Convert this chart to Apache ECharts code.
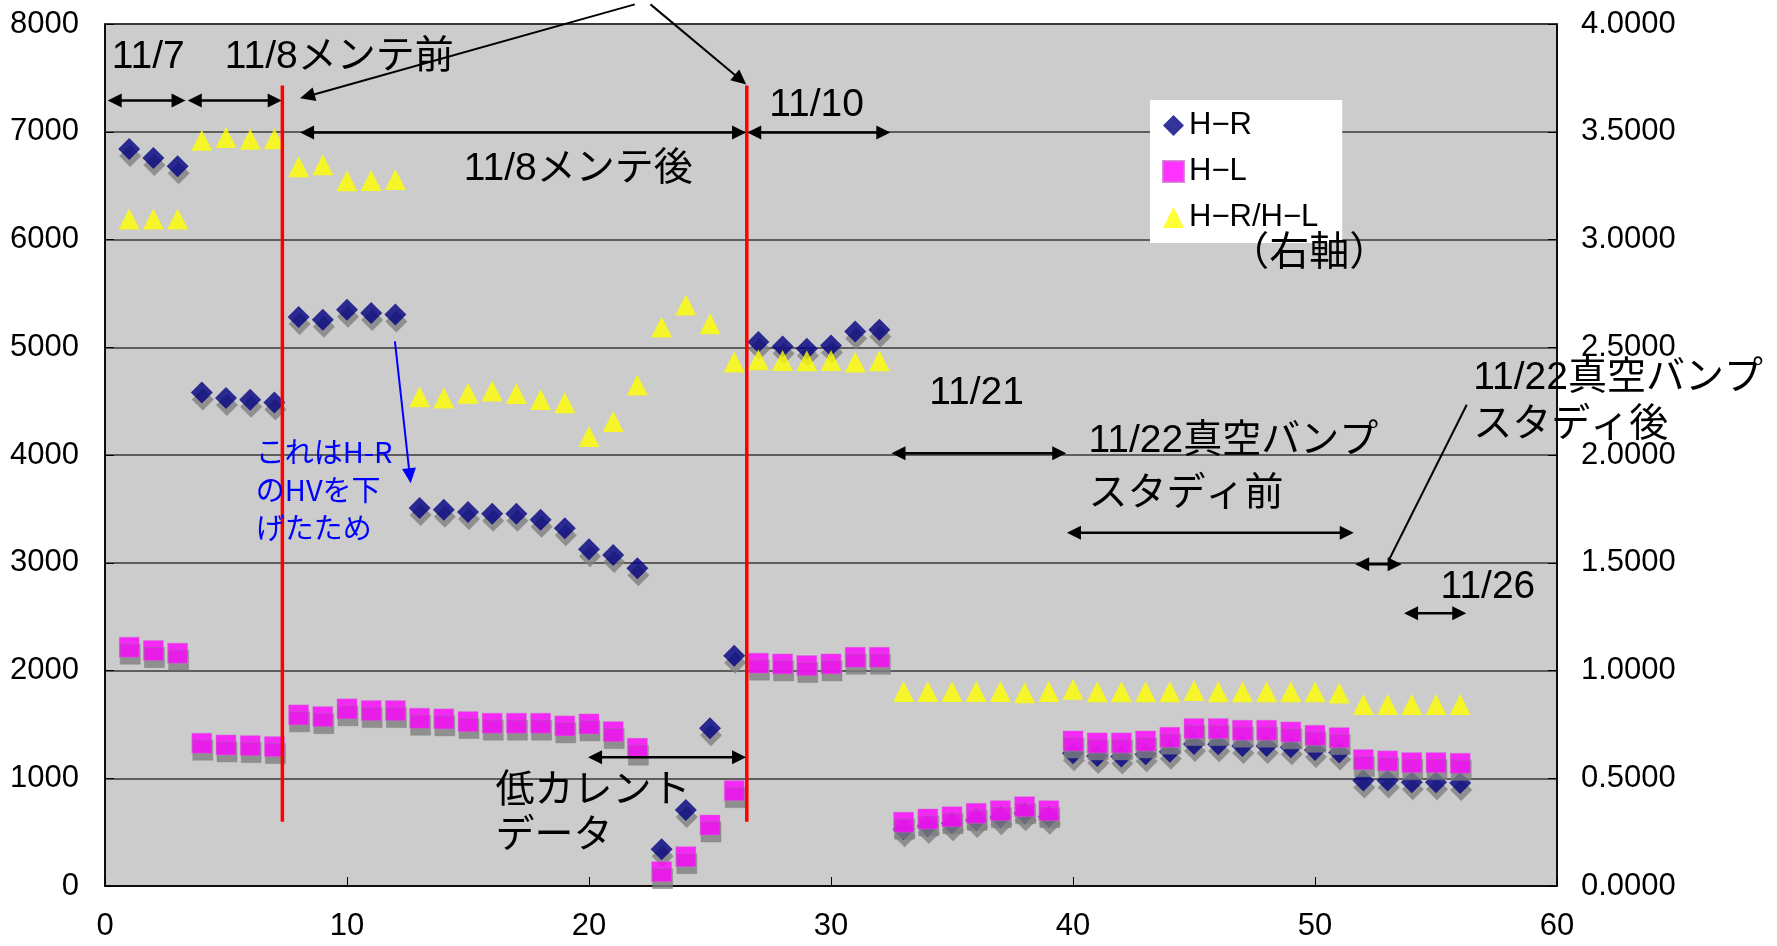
<!DOCTYPE html>
<html>
<head>
<meta charset="utf-8">
<script src="https://cdn.jsdelivr.net/npm/echarts@6/dist/echarts.min.js"></script>
<style>
  html, body { margin: 0; padding: 0; background: #fff; }
  #chart { width: 1777px; height: 946px; }
</style>
</head>
<body>
<div id="chart"></div>
<script>
// Measurement index (x axis)
const points = [1, 2, 3, 4, 5, 6, 7, 8, 9, 10, 11, 12, 13, 14, 15, 16, 17, 18, 19, 20,
  21, 22, 23, 24, 25, 26, 27, 28, 29, 30, 31, 32, 33, 34, 35, 36, 37, 38, 39, 40,
  41, 42, 43, 44, 45, 46, 47, 48, 49, 50, 51, 52, 53, 54, 55, 56];

// H-R counts (left axis)
const hR = [6841, 6757, 6680, 4581, 4528, 4513, 4488, 5281, 5256, 5349, 5318, 5305,
  3507, 3491, 3470, 3454, 3454, 3399, 3321, 3126, 3071, 2950, 341, 706, 1464, 2136,
  5049, 5008, 4987, 5017, 5147, 5163, 526, 557, 582, 613, 638, 675, 643,
  1232, 1207, 1201, 1223, 1247, 1319, 1316, 1300, 1300, 1288, 1263, 1238,
  978, 978, 963, 963, 957];

// H-L counts (left axis)
const hL = [2216, 2185, 2161, 1325, 1309, 1303, 1294, 1588, 1572, 1644, 1628, 1628,
  1557, 1551, 1526, 1511, 1511, 1511, 1486, 1504, 1433, 1279, 133, 272, 566, 885,
  2068, 2061, 2046, 2061, 2123, 2123, 592, 622, 643, 675, 699, 736, 699,
  1346, 1328, 1328, 1346, 1381, 1461, 1461, 1446, 1446, 1430, 1399, 1377,
  1173, 1161, 1145, 1145, 1139];

// H-R/H-L ratio (right axis)
const ratio = [3.095, 3.095, 3.095, 3.460, 3.473, 3.465, 3.468, 3.338, 3.347, 3.273, 3.274, 3.279,
  2.270, 2.265, 2.286, 2.297, 2.285, 2.258, 2.242, 2.086, 2.156, 2.325, 2.594, 2.696, 2.609, 2.431,
  2.442, 2.439, 2.437, 2.439, 2.431, 2.437, 0.902, 0.902, 0.902, 0.902, 0.902, 0.897, 0.902,
  0.913, 0.901, 0.901, 0.901, 0.901, 0.907, 0.901, 0.901, 0.901, 0.901, 0.901, 0.896,
  0.842, 0.842, 0.842, 0.842, 0.842];

const seriesNames = ['H-R', 'H-L', 'H-R/H-L'];

// Axis ranges
const xRange = [0, 60, 10];
const leftRange = [0, 8000, 1000];
const rightRange = [0, 4, 0.5];

// Maintenance markers (x positions, y extent on the left axis)
const maintenanceX = [7.33, 26.52];
const maintenanceY = [597, 7430];

// Period arrows: [xStart, xEnd, y]
const periodArrows = [
  [0.11, 3.33, 7290],
  [3.42, 7.30, 7290],
  [8.06, 26.49, 6993],
  [26.54, 32.45, 6993],
  [32.50, 39.72, 4017],
  [39.75, 51.60, 3278],
  [51.66, 53.58, 2986],
  [53.68, 56.25, 2532],
  [19.96, 26.49, 1195]
];

// Pointer arrows: [x0, y0, x1, y1], head at the second point
const pointerArrows = [
  [21.89, 8182, 8.06, 7310],
  [22.54, 8182, 26.50, 7439]
];
const hvArrow = [11.98, 5055, 12.63, 3738];
const leaderLine = [56.27, 4467, 53.06, 3028];

// Period labels: [text, x, y]
const periodLabels = [
  ['11/7', 0.28, 7690],
  ['11/8メンテ前', 4.95, 7690],
  ['11/8メンテ後', 14.82, 6649],
  ['11/10', 27.45, 7244],
  ['11/21', 34.06, 4574],
  ['11/22真空バンプ', 40.64, 4128],
  ['スタディ前', 40.64, 3636],
  ['11/22真空バンプ', 56.54, 4708],
  ['スタディ後', 56.54, 4280],
  ['11/26', 55.19, 2777],
  ['低カレント', 16.14, 882],
  ['データ', 16.14, 464]
];
const axisNote = ['（右軸）', 49.76, 5906];
const hvNote = ['これはH-R\nのHVを下\nげたため', 6.23, 3678];

const LATIN = '"Liberation Sans", "Noto Sans CJK JP", sans-serif';
const CJK = '"Noto Sans CJK JP", sans-serif';

const pairs = (xs, ys) => xs.map((x, i) => [x, ys[i]]);

const chart = echarts.init(document.getElementById('chart'), null, { renderer: 'canvas' });

const shadow = { shadowColor: '#808080', shadowOffsetX: 1, shadowOffsetY: 7, shadowBlur: 0 };
const axisFont = { fontSize: 31, color: '#000', fontFamily: LATIN };

chart.setOption({
  animation: false,
  backgroundColor: '#ffffff',
  grid: {
    left: 105, right: 220, top: 24, bottom: 60,
    show: true, backgroundColor: '#cccccc', borderColor: '#000', borderWidth: 1.5
  },
  xAxis: {
    type: 'value', min: xRange[0], max: xRange[1], interval: xRange[2],
    axisLine: { show: true, lineStyle: { color: '#000', width: 1.5 } },
    axisTick: { show: true, inside: true, length: 9, lineStyle: { color: '#000', width: 1 } },
    splitLine: { show: false },
    axisLabel: Object.assign({ margin: 25, formatter: v => String(v) }, axisFont)
  },
  yAxis: [
    {
      type: 'value', position: 'left', min: leftRange[0], max: leftRange[1], interval: leftRange[2],
      axisLine: { show: true, lineStyle: { color: '#000', width: 1.5 } },
      axisTick: { show: true, inside: true, length: 9, lineStyle: { color: '#000', width: 1 } },
      splitLine: { show: true, lineStyle: { color: '#3a3a3a', width: 1.5 } },
      axisLabel: Object.assign({ margin: 26, formatter: v => String(v) }, axisFont)
    },
    {
      type: 'value', position: 'right', min: rightRange[0], max: rightRange[1], interval: rightRange[2],
      axisLine: { show: true, lineStyle: { color: '#000', width: 1.5 } },
      axisTick: { show: true, inside: true, length: 9, lineStyle: { color: '#000', width: 1 } },
      splitLine: { show: false },
      axisLabel: Object.assign({ margin: 24, formatter: v => v.toFixed(4) }, axisFont)
    }
  ],
  legend: {
    orient: 'vertical', left: 1150, top: 100,
    backgroundColor: '#ffffff', padding: [10, 24, 10, 12],
    itemGap: 15, itemWidth: 21, itemHeight: 21,
    textStyle: { fontSize: 31, color: '#000', fontFamily: LATIN },
    formatter: name => name.replace(/-/g, '−'),
    itemStyle: { shadowColor: 'rgba(0,0,0,0)', shadowOffsetX: 0, shadowOffsetY: 0, shadowBlur: 0 },
    data: seriesNames
  },
  series: [
    {
      name: seriesNames[0], type: 'scatter', symbol: 'diamond', symbolSize: 22,
      xAxisIndex: 0, yAxisIndex: 0, z: 2,
      itemStyle: Object.assign({ color: '#000080' }, shadow),
      data: pairs(points, hR)
    },
    {
      name: seriesNames[1], type: 'scatter', symbol: 'rect', symbolSize: 20,
      xAxisIndex: 0, yAxisIndex: 0, z: 3,
      itemStyle: Object.assign({ color: '#ff00ff', borderColor: '#d070d0', borderWidth: 0.5 }, shadow),
      data: pairs(points, hL)
    },
    {
      name: seriesNames[2], type: 'scatter', symbol: 'triangle', symbolSize: 21,
      xAxisIndex: 0, yAxisIndex: 1, z: 4,
      itemStyle: { color: '#ffff00' },
      data: pairs(points, ratio)
    }
  ]
});

// Annotation layer, placed through the chart's own axes
const toPx = p => chart.convertToPixel({ xAxisIndex: 0, yAxisIndex: 0 }, p);

function head(tip, from, color, len, half) {
  const dx = tip[0] - from[0], dy = tip[1] - from[1];
  const d = Math.hypot(dx, dy) || 1;
  const ux = dx / d, uy = dy / d;
  const bx = tip[0] - ux * len, by = tip[1] - uy * len;
  return {
    type: 'polygon', z: 100, silent: true,
    shape: { points: [tip, [bx - uy * half, by + ux * half], [bx + uy * half, by - ux * half]] },
    style: { fill: color }
  };
}

function segment(a, b, color, width) {
  return {
    type: 'line', z: 100, silent: true,
    shape: { x1: a[0], y1: a[1], x2: b[0], y2: b[1] },
    style: { stroke: color, lineWidth: width }
  };
}

function trim(a, b, amount) {
  const dx = b[0] - a[0], dy = b[1] - a[1];
  const d = Math.hypot(dx, dy) || 1;
  return [b[0] - dx / d * amount, b[1] - dy / d * amount];
}

function label(text, x, y, font, color, align) {
  const p = toPx([x, y]);
  return {
    type: 'text', z: 101, silent: true,
    style: {
      text: text, x: p[0], y: p[1], font: font, fill: color,
      align: align, textAlign: align, verticalAlign: 'middle', textVerticalAlign: 'middle',
      lineHeight: 38
    }
  };
}

function buildGraphics() {
  const g = [];
  maintenanceX.forEach(x => {
    g.push(segment(toPx([x, maintenanceY[0]]), toPx([x, maintenanceY[1]]), '#ff0000', 3.5));
  });
  periodArrows.forEach(([x0, x1, y]) => {
    const a = toPx([x0, y]), b = toPx([x1, y]);
    g.push(segment(trim(b, a, 7), trim(a, b, 7), '#000', 2.5));
    g.push(head(a, b, '#000', 14, 7));
    g.push(head(b, a, '#000', 14, 7));
  });
  pointerArrows.forEach(([x0, y0, x1, y1]) => {
    const a = toPx([x0, y0]), b = toPx([x1, y1]);
    g.push(segment(a, trim(a, b, 7), '#000', 2));
    g.push(head(b, a, '#000', 15, 7));
  });
  {
    const a = toPx([hvArrow[0], hvArrow[1]]), b = toPx([hvArrow[2], hvArrow[3]]);
    g.push(segment(a, trim(a, b, 7), '#0000ff', 2));
    g.push(head(b, a, '#0000ff', 15, 7));
  }
  g.push(segment(toPx([leaderLine[0], leaderLine[1]]), toPx([leaderLine[2], leaderLine[3]]), '#000', 2));
  periodLabels.forEach(([t, x, y]) => g.push(label(t, x, y, '39px ' + LATIN, '#000', 'left')));
  g.push(label(axisNote[0], axisNote[1], axisNote[2], '40px ' + CJK, '#000', 'center'));
  g.push(label(hvNote[0], hvNote[1], hvNote[2], '29px ' + CJK, '#0000ff', 'left'));
  return g;
}

chart.setOption({ graphic: buildGraphics() });
</script>
</body>
</html>
